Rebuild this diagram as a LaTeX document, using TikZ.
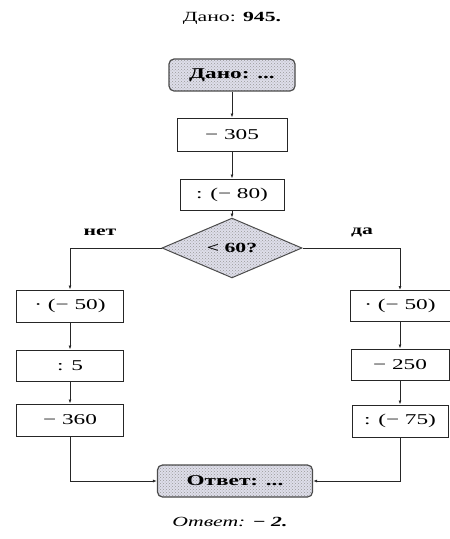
\documentclass[tikz,border=0pt]{standalone}
\usepackage{fontspec}
\setmainfont{Liberation Serif}
\usetikzlibrary{shapes.geometric,arrows.meta,patterns}
\newcommand{\sx}[1]{\scalebox{1.55}[1]{#1}}
\definecolor{hatchbg}{RGB}{222,222,234}
\tikzset{
  opbox/.style={draw=black!85, line width=1pt, rectangle, minimum height=32pt, inner sep=0pt, font=\fontsize{15}{17}\selectfont},
  termbox/.style={draw=black!70, line width=1.2pt, rectangle, rounded corners=5pt, minimum height=32pt, inner sep=0pt,
    preaction={fill=hatchbg}, pattern=crosshatch dots, pattern color=black!40, font=\fontsize{15}{17}\selectfont\bfseries},
  decbox/.style={draw=black!70, line width=1pt, diamond, minimum width=140pt, minimum height=41pt, inner sep=0pt,
    preaction={fill=hatchbg}, pattern=crosshatch dots, pattern color=black!40, font=\fontsize{14}{16}\selectfont\bfseries},
  conn/.style={draw=black!85, line width=0.9pt, -{Latex[length=4pt,width=3pt]}},
  lbl/.style={font=\fontsize{14}{16}\selectfont\bfseries},
  capt/.style={font=\fontsize{14}{16}\selectfont}
}
\begin{document}
\begin{tikzpicture}[x=1pt,y=-1pt]
\useasboundingbox (0,0) rectangle (450,539);
\node[capt] (title) at (232,18) {\sx{Дано: \textbf{945.}}};
\node[termbox, minimum width=126pt] (start) at (232,75) {\sx{Дано: ...}};
\node[opbox, minimum width=110pt, minimum height=33pt] (b1) at (232,134.5) {\sx{− 305}};
\node[opbox, minimum width=104pt, minimum height=31pt] (b2) at (232,194.5) {\sx{: (− 80)}};
\node[decbox] (dec) at (232,248) {\sx{< 60?}};
\node[opbox, minimum width=107pt] (l1) at (70,306) {\sx{· (− 50)}};
\node[opbox, minimum width=107pt, minimum height=31pt] (l2) at (70,365.5) {\sx{: 5}};
\node[opbox, minimum width=107pt] (l3) at (70,420) {\sx{− 360}};
\node[opbox, minimum width=100pt, minimum height=31pt] (r1) at (400,306) {\sx{· (− 50)}};
\node[opbox, minimum width=98pt, minimum height=31pt] (r2) at (400,364.5) {\sx{− 250}};
\node[opbox, minimum width=96pt] (r3) at (400,421) {\sx{: (− 75)}};
\node[termbox, minimum width=155pt] (end) at (235,481) {\sx{Ответ: ...}};
\node[lbl] (no) at (100,232) {\sx{нет}};
\node[lbl] (yes) at (362,232) {\sx{да}};
\node[capt] (answer) at (230,522) {\sx{\textit{Ответ:} \textbf{\textit{− 2.}}}};
\draw[conn] (start) -- (b1);
\draw[conn] (b1) -- (b2);
\draw[conn] (b2) -- (dec);
\draw[conn] (dec.west) -| (l1.north);
\draw[conn] (dec.east) -| (r1.north);
\draw[conn] (l1) -- (l2);
\draw[conn] (l2) -- (l3);
\draw[conn] (r1) -- (r2);
\draw[conn] (r2) -- (r3);
\draw[conn] (l3.south) |- (end.west);
\draw[conn] (r3.south) |- (end.east);
\end{tikzpicture}
\end{document}
